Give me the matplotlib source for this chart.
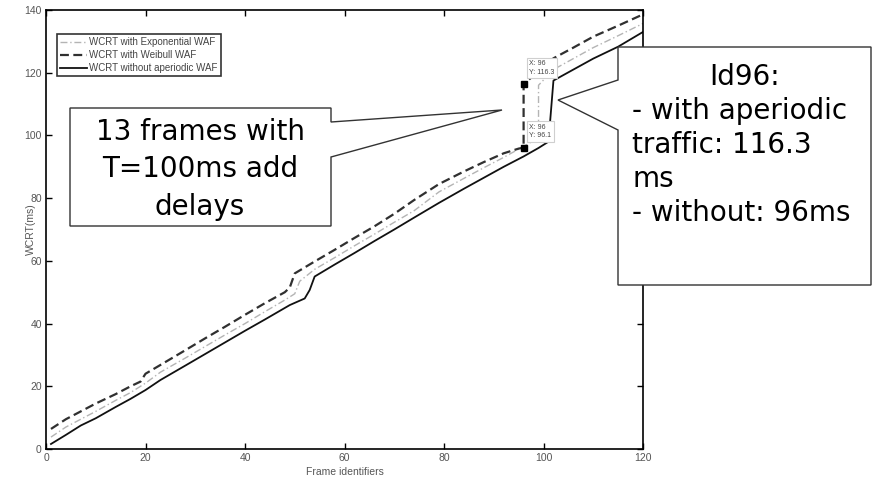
import matplotlib
matplotlib.use("Agg")
import matplotlib.pyplot as plt
from matplotlib.patches import Polygon

# WCRT without aperiodic WAF (solid)
frames_no_aper = [1, 4, 7, 10, 14, 17, 20, 23, 28, 32, 36, 40, 44, 49, 52, 53, 54, 58, 62, 66,
                  70, 74, 79, 84, 88, 92, 96, 99, 101, 102, 106, 110, 115, 120]
wcrt_no_aper = [1.6, 4.5, 7.5, 9.8, 13.4, 16, 18.8, 22, 26.6, 30.3, 34, 37.7, 41.3, 45.9, 48, 50.7, 55, 58.8, 62.5, 66.3,
                70, 73.8, 78.5, 83, 86.5, 90, 93.3, 96, 98, 117.5, 121, 124.5, 128.3, 133]

# WCRT with Weibull WAF (dashed)
frames_weib = [1, 4, 7, 10, 14, 17, 19, 20, 23, 28, 32, 36, 40, 44, 48, 49, 50, 54, 58, 62,
               66, 70, 74, 79, 84, 88, 92, 95, 96, 96, 99, 102, 106, 110, 115, 120]
wcrt_weib = [6.4, 9.5, 12, 14.5, 17.5, 20, 21.5, 24, 26.8, 31.5, 35.3, 39, 42.8, 46.5, 50, 51.5, 56, 59.8, 63.5, 67.3,
             71, 75, 79.4, 84.5, 88.5, 91.5, 94.3, 95.8, 96.1, 116.3, 120.5, 124.6, 128, 131.5, 135, 138.6]

# WCRT with Exponential WAF (dash-dot)
frames_exp = [1, 4, 7, 10, 14, 17, 20, 23, 28, 32, 36, 40, 44, 48, 50, 51, 54, 58, 62, 66,
              70, 74, 79, 84, 88, 92, 96, 98, 99, 99, 102, 106, 110, 115, 120]
wcrt_exp = [3.8, 7, 9.5, 12, 15.5, 18, 21, 24.5, 29, 32.7, 36.4, 40, 43.8, 47.5, 49.5, 53.5, 57.3, 61, 64.8, 68.5,
            72.3, 76, 82, 86.3, 89.7, 93, 96.5, 98.3, 98.8, 116, 121, 124.5, 128, 131.8, 135.7]

# data tips
tip_x = [96, 96]
tip_y = [116.3, 96.1]

x_ticks = [0, 20, 40, 60, 80, 100, 120]
y_ticks = [0, 20, 40, 60, 80, 100, 120, 140]

plt.rcParams['font.family'] = ['Liberation Sans Narrow', 'Liberation Sans', 'DejaVu Sans']

fig = plt.figure(figsize=(8.72, 4.79), dpi=100)
ax = fig.add_axes([46 / 872, 1 - 449 / 479, (643 - 46) / 872, (449 - 10) / 479])

ax.plot(frames_exp, wcrt_exp, linestyle=(0, (5, 2, 1, 2)), color="#b4b4b4", lw=1.0,
        label="WCRT with Exponential WAF")
ax.plot(frames_weib, wcrt_weib, linestyle=(0, (4, 2)), color="#303030", lw=1.6,
        label="WCRT with Weibull WAF")
ax.plot(frames_no_aper, wcrt_no_aper, linestyle="-", color="#111111", lw=1.3,
        label="WCRT without aperiodic WAF")

ax.plot(tip_x, tip_y, linestyle="none", marker="s", ms=4, color="black", zorder=5)
for tx, ty in zip(tip_x, tip_y):
    ax.annotate(f"X: {tx}\nY: {ty}", (tx, ty), xytext=(4, 6), textcoords="offset points",
                ha="left", va="bottom", fontsize=5, color="#444444", linespacing=1.3,
                bbox=dict(boxstyle="square,pad=0.35", fc="white", ec="#cfcfcf", lw=0.8), zorder=6)

ax.set_xlim(0, 120)
ax.set_ylim(0, 140)
ax.set_xticks(x_ticks)
ax.set_yticks(y_ticks)
ax.tick_params(direction="in", length=4, width=1, top=True, right=True,
               labelsize=7.5, labelcolor="#555555", pad=3)
for s in ax.spines.values():
    s.set_linewidth(1.2)
ax.set_xlabel("Frame identifiers", fontsize=7.5, color="#555555", labelpad=3)
ax.set_ylabel("WCRT(ms)", fontsize=7.5, color="#555555")
ax.yaxis.set_label_coords(-0.016, 0.5)

leg = ax.legend(loc="upper left", bbox_to_anchor=(0.018, 0.946), fontsize=7, frameon=True,
                fancybox=False, edgecolor="black", handlelength=2.8, handletextpad=0.2,
                borderpad=0.35, labelspacing=0.3, borderaxespad=0)
leg.get_frame().set_linewidth(1.2)
for t in leg.get_texts():
    t.set_color("#444444")

# callouts in pixel coordinates
ov = fig.add_axes([0, 0, 1, 1], zorder=10)
ov.set_xlim(0, 872)
ov.set_ylim(479, 0)
ov.axis("off")
ov.patch.set_alpha(0)

left_box = [(70, 108), (331, 108), (331, 122), (502, 110), (331, 157), (331, 226), (70, 226)]
right_box = [(618, 47), (871, 47), (871, 285), (618, 285), (618, 130), (558, 100), (618, 80)]
for pts in (left_box, right_box):
    ov.add_patch(Polygon(pts, closed=True, fc="white", ec="#333333", lw=1.0))

callout_font = dict(family="DejaVu Sans", fontsize=20, color="black", va="baseline")
ov.text(200, 140, "13 frames with", ha="center", **callout_font)
ov.text(200, 177, "T=100ms add", ha="center", **callout_font)
ov.text(200, 215, "delays", ha="center", **callout_font)

ov.text(745, 85, "Id96:", ha="center", **callout_font)
ov.text(632, 119, "- with aperiodic", ha="left", **callout_font)
ov.text(632, 153, "traffic: 116.3", ha="left", **callout_font)
ov.text(632, 187, "ms", ha="left", **callout_font)
ov.text(632, 221, "- without: 96ms", ha="left", **callout_font)

fig.savefig("out.png", dpi=100, facecolor="white")
